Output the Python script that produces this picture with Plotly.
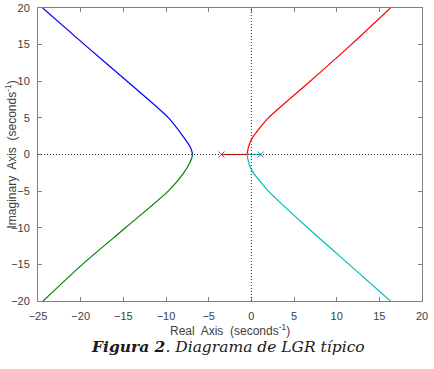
import plotly.graph_objects as go

# Root locus branches (real part, imaginary part)
blue_re = [-6.88, -7.0, -7.19, -7.98, -9.7, -14.55, -19.55, -24.45]
blue_im = [0.0, 0.55, 1.09, 2.45, 5.0, 10.0, 15.0, 20.0]

green_re = [-6.88, -7.0, -7.19, -7.98, -9.74, -14.75, -19.8, -24.4]
green_im = [0.0, -0.55, -1.09, -2.6, -5.0, -10.0, -15.0, -20.0]

red_axis_re = [-3.5, -0.5]
red_axis_im = [0.0, 0.0]
red_re = [-0.5, -0.38, -0.2, 0.1, 0.9, 2.0, 6.9, 11.7, 16.3]
red_im = [0.0, 0.8, 1.5, 2.23, 3.5, 5.0, 10.0, 15.0, 20.0]

cyan_axis_re = [1.1, -0.5]
cyan_axis_im = [0.0, 0.0]
cyan_re = [-0.5, -0.38, -0.2, 0.1, 0.9, 2.0, 6.6, 11.45, 16.3]
cyan_im = [0.0, -0.8, -1.5, -2.23, -3.5, -5.0, -10.0, -15.0, -20.0]

poles_re = [-3.5, 1.1]
poles_im = [0.0, 0.0]

x_ticks = [-25, -20, -15, -10, -5, 0, 5, 10, 15, 20]
y_ticks = [-20, -15, -10, -5, 0, 5, 10, 15, 20]

BLUE = "#0000ff"
GREEN = "#008000"
RED = "#ff0000"
CYAN = "#00bfbf"

fig = go.Figure()

def branch(x, y, color, shape="spline"):
    fig.add_trace(go.Scatter(x=x, y=y, mode="lines",
                             line=dict(color=color, width=1.2, shape=shape, smoothing=0.7),
                             hoverinfo="skip", showlegend=False))

branch(blue_re, blue_im, BLUE)
branch(green_re, green_im, GREEN)
branch(red_axis_re, red_axis_im, RED, "linear")
branch(red_re, red_im, RED)
branch(cyan_axis_re, cyan_axis_im, CYAN, "linear")
branch(cyan_re, cyan_im, CYAN)

fig.add_trace(go.Scatter(x=poles_re, y=poles_im, mode="markers",
                         marker=dict(symbol="x-thin", size=6,
                                     line=dict(color="#4070d0", width=1)),
                         hoverinfo="skip", showlegend=False))

fig.add_vline(x=0, line=dict(color="#333333", width=1, dash="1px,2px"))
fig.add_hline(y=0, line=dict(color="#333333", width=1, dash="1px,2px"))

axis_common = dict(
    showgrid=False, zeroline=False, showline=True, linecolor="#808080",
    linewidth=1, mirror="ticks", ticks="inside", ticklen=4, tickcolor="#808080",
    automargin=False, ticklabelstandoff=5,
    tickfont=dict(family="Liberation Sans, Arial", size=11, color="#404040"),
)

fig.update_layout(
    width=434, height=369,
    margin=dict(l=38, r=12, t=8, b=68),
    paper_bgcolor="white", plot_bgcolor="white",
    xaxis=dict(range=[-25, 20], tickvals=x_ticks, **axis_common),
    yaxis=dict(range=[-20, 20], tickvals=y_ticks, **axis_common),
)

fig.add_annotation(text="Real  Axis  (seconds<sup>-1</sup>)", xref="paper", yref="paper",
                   x=0.5, y=0, yshift=-29, yanchor="middle", xanchor="center",
                   showarrow=False,
                   font=dict(family="Liberation Sans, Arial", size=12, color="#404040"))
fig.add_annotation(text="Imaginary  Axis  (seconds<sup>-1</sup>)", xref="paper", yref="paper",
                   x=0, y=0.5, xshift=-28, xanchor="center", yanchor="middle",
                   textangle=-90, showarrow=False,
                   font=dict(family="Liberation Sans, Arial", size=12, color="#404040"))
fig.add_annotation(text="<b><i>Figura 2</i></b><i>. Diagrama de LGR típico</i>",
                   xref="paper", yref="paper", x=0.495, y=0, yshift=-45,
                   xanchor="center", yanchor="middle", showarrow=False,
                   font=dict(family="DejaVu Serif", size=15.5, color="#1a1a1a"))

fig.write_html("out.html", config={"displayModeBar": False},
               post_script="document.body.style.margin='0';")
